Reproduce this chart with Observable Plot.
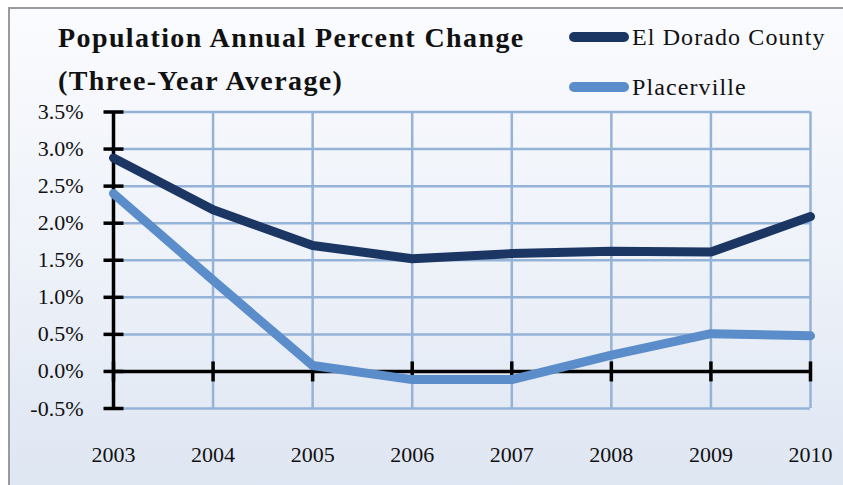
<!DOCTYPE html>
<html>
<head>
<meta charset="utf-8">
<script src="https://cdn.jsdelivr.net/npm/d3@7"></script>
<script src="https://cdn.jsdelivr.net/npm/@observablehq/plot@0.6"></script>
<style>
  html, body { margin: 0; padding: 0; background: #ffffff; }
  #chart { position: relative; width: 843px; height: 485px; overflow: hidden; background: #ffffff; }
  #panel { position: absolute; left: 8px; top: 7px; width: 860px; height: 500px;
           border: 2px solid #9a9a9a; box-sizing: border-box;
           background: linear-gradient(to bottom, #fafbfe 0%, #eef2f9 50%, #dde5f2 100%); }
  #plot { position: absolute; left: 0; top: 0; }
  #title { position: absolute; left: 58px; top: 16px; font-family: "Liberation Serif", serif;
           font-weight: bold; font-size: 28px; line-height: 43px; letter-spacing: 1.4px; color: #111; }
  .leg { position: absolute; left: 568px; height: 30px; display: flex; align-items: center;
         font-family: "Liberation Serif", serif; font-size: 24px; color: #111; letter-spacing: 1.1px; }
  .leg svg { margin-right: 2px; }
</style>
</head>
<body>
<div id="chart">
  <div id="panel"></div>
  <div id="plot"></div>
  <div id="title">Population Annual Percent Change<br>(Three-Year Average)</div>
  <div class="leg" id="leg1" style="top:22px"></div>
  <div class="leg" id="leg2" style="top:72px"></div>
</div>
<script>
const years = [2003, 2004, 2005, 2006, 2007, 2008, 2009, 2010];
const elDorado = [2.88, 2.18, 1.70, 1.52, 1.59, 1.62, 1.61, 2.09];
const placerville = [2.40, 1.23, 0.08, -0.11, -0.11, 0.22, 0.51, 0.48];
const yTicks = [-0.5, 0, 0.5, 1.0, 1.5, 2.0, 2.5, 3.0, 3.5];
const seriesNames = ["El Dorado County", "Placerville"];
const seriesColors = ["#1c3664", "#5a8dca"];

const rows = [];
years.forEach((yr, i) => {
  rows.push({series: seriesNames[0], year: yr, value: elDorado[i]});
  rows.push({series: seriesNames[1], year: yr, value: placerville[i]});
});

const vbar = {draw(ctx, size) { const r = Math.sqrt(size / Math.PI); ctx.moveTo(0, -r); ctx.lineTo(0, r); }};
const hbar = {draw(ctx, size) { const r = Math.sqrt(size / Math.PI); ctx.moveTo(-r, 0); ctx.lineTo(r, 0); }};
const gridColor = "#95b3d7";

const chart = Plot.plot({
  width: 843,
  height: 485,
  marginLeft: 113,
  marginRight: 33,
  marginTop: 111.5,
  marginBottom: 77,
  style: {background: "transparent", fontFamily: "'Liberation Serif', serif", fontSize: "22px", color: "#111"},
  x: {domain: [years[0], years[years.length - 1]]},
  y: {domain: [yTicks[0], yTicks[yTicks.length - 1]]},
  color: {domain: seriesNames, range: seriesColors},
  marks: [
    Plot.gridX(years, {stroke: gridColor, strokeOpacity: 1, strokeWidth: 2.5}),
    Plot.gridY(yTicks, {stroke: gridColor, strokeOpacity: 1, strokeWidth: 2.5}),
    Plot.axisX(years, {tickSize: 0, tickPadding: 38, tickFormat: d => String(d), fontSize: 22, label: null}),
    Plot.axisY(yTicks, {tickSize: 0, tickPadding: 30, tickFormat: d => d.toFixed(1) + "%", fontSize: 22, label: null}),
    Plot.ruleX([years[0]], {stroke: "#000", strokeWidth: 3.5}),
    Plot.ruleY([0], {stroke: "#000", strokeWidth: 3.5}),
    Plot.dot(yTicks, {y: d => d, frameAnchor: "left", symbol: hbar, r: 10, stroke: "#000", strokeWidth: 3.5, fill: "none"}),
    Plot.dot(years, {x: d => d, y: () => 0, symbol: vbar, r: 10, stroke: "#000", strokeWidth: 3.5, fill: "none"}),
    Plot.line(rows, {x: "year", y: "value", z: "series", stroke: "series", strokeWidth: 9, strokeLinecap: "round", strokeLinejoin: "miter"})
  ]
});
document.getElementById("plot").appendChild(chart);

function legendItem(id, name, color) {
  const el = document.getElementById(id);
  el.innerHTML = `<svg width="62" height="14"><line x1="6" y1="7" x2="56" y2="7" stroke="${color}" stroke-width="10" stroke-linecap="round"/></svg><span>${name}</span>`;
}
legendItem("leg1", seriesNames[0], seriesColors[0]);
legendItem("leg2", seriesNames[1], seriesColors[1]);
</script>
</body>
</html>
